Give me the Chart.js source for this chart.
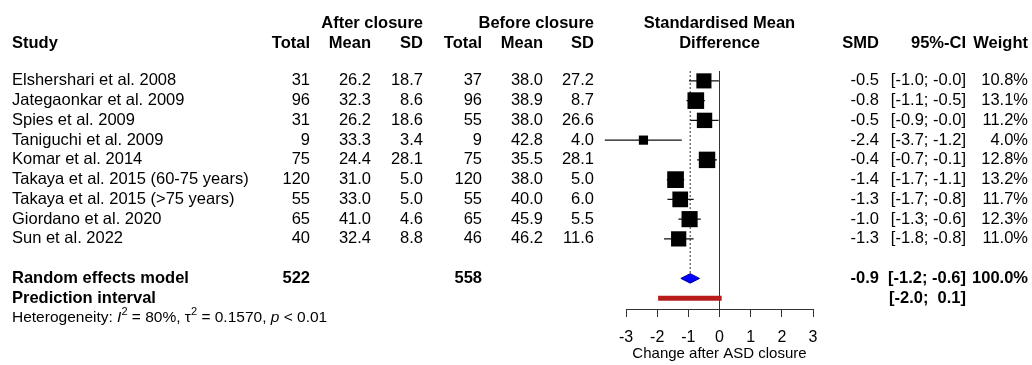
<!DOCTYPE html>
<html>
<head>
<meta charset="utf-8">
<script src="https://cdn.jsdelivr.net/npm/chart.js@4.4.1/dist/chart.umd.min.js"></script>
<style>
  html, body { margin: 0; padding: 0; background: #fff; }
  canvas { display: block; }
</style>
</head>
<body>
<canvas id="forest" width="1032" height="365"></canvas>
<script>
// Study data
const studies = [
  "Elshershari et al. 2008",
  "Jategaonkar et al. 2009",
  "Spies et al. 2009",
  "Taniguchi et al. 2009",
  "Komar et al. 2014",
  "Takaya et al. 2015 (60-75 years)",
  "Takaya et al. 2015 (>75 years)",
  "Giordano et al. 2020",
  "Sun et al. 2022"
];
const totalAfter = [31, 96, 31, 9, 75, 120, 55, 65, 40];
const meanAfter = [26.2, 32.3, 26.2, 33.3, 24.4, 31.0, 33.0, 41.0, 32.4];
const sdAfter = [18.7, 8.6, 18.6, 3.4, 28.1, 5.0, 5.0, 4.6, 8.8];
const totalBefore = [37, 96, 55, 9, 75, 120, 55, 65, 46];
const meanBefore = [38.0, 38.9, 38.0, 42.8, 35.5, 38.0, 40.0, 45.9, 46.2];
const sdBefore = [27.2, 8.7, 26.6, 4.0, 28.1, 5.0, 6.0, 5.5, 11.6];
const smd = [-0.50, -0.76, -0.48, -2.44, -0.40, -1.41, -1.26, -0.96, -1.31];
const ciLow = [-0.98, -1.06, -0.93, -3.68, -0.72, -1.69, -1.67, -1.32, -1.78];
const ciHigh = [-0.02, -0.47, -0.03, -1.21, -0.08, -1.13, -0.83, -0.60, -0.83];
const weight = [10.8, 13.1, 11.2, 4.0, 12.8, 13.2, 11.7, 12.3, 11.0];

// Pooled results
const pooled = { smd: -0.94, low: -1.24, high: -0.64, weight: 100.0, nAfter: 522, nBefore: 558 };
const predInterval = [-1.97, 0.07];
const heterogeneity = { i2: "80%", tau2: "0.1570", p: "< 0.01" };
const xTicks = [-3, -2, -1, 0, 1, 2, 3];
const xTitle = "Change after ASD closure";

// row layout (row index on the y scale)
const studyRows = studies.map((s, i) => i + 1);
const randomRow = 11, predRow = 12, hetRow = 13;
const FONT = '"Liberation Sans", Arial, Helvetica, sans-serif';
const TXT = 16.5;

const fmt = v => v.toFixed(1);
const fmtCi = (lo, hi) => {
  const pad = v => (v >= 0 ? " " : "") + fmt(v);
  return "[" + pad(lo) + "; " + pad(hi) + "]";
};

// CI whiskers: pairs of points separated by gaps
const whiskers = [];
studies.forEach((s, i) => {
  whiskers.push({ x: ciLow[i], y: studyRows[i] });
  whiskers.push({ x: ciHigh[i], y: studyRows[i] });
  whiskers.push({ x: null, y: null });
});

const diamondHalf = 0.24;
const diamond = [
  { x: pooled.low, y: randomRow },
  { x: pooled.smd, y: randomRow - diamondHalf },
  { x: pooled.high, y: randomRow },
  { x: pooled.smd, y: randomRow + diamondHalf },
  { x: pooled.low, y: randomRow }
];

// table text drawn beside the plot
const tablePlugin = {
  id: "forestTable",
  afterDraw(chart) {
    const ctx = chart.ctx;
    const py = r => chart.scales.y.getPixelForValue(r);
    const area = chart.chartArea;
    const colRight = [310, 371, 423, 482, 543, 594];
    const smdX = 879, ciX = 966, wX = 1028, nameX = 12;

    ctx.save();
    ctx.fillStyle = "#000";
    ctx.textBaseline = "middle";
    const put = (txt, x, y, align, bold, size) => {
      ctx.font = (bold ? "bold " : "") + (size || TXT) + "px " + FONT;
      ctx.textAlign = align;
      ctx.fillText(txt, x, y);
    };

    // header
    const h1 = py(-1.9), h2 = py(-0.9);
    put("After closure", colRight[2], h1, "right", true);
    put("Before closure", colRight[5], h1, "right", true);
    put("Standardised Mean", (area.left + area.right) / 2, h1, "center", true);
    put("Difference", (area.left + area.right) / 2, h2, "center", true);
    put("Study", nameX, h2, "left", true);
    ["Total", "Mean", "SD", "Total", "Mean", "SD"].forEach((t, k) => put(t, colRight[k], h2, "right", true));
    put("SMD", smdX, h2, "right", true);
    put("95%-CI", ciX, h2, "right", true);
    put("Weight", wX, h2, "right", true);

    // studies
    studies.forEach((name, i) => {
      const y = py(studyRows[i]);
      put(name, nameX, y, "left");
      const vals = [String(totalAfter[i]), fmt(meanAfter[i]), fmt(sdAfter[i]),
                    String(totalBefore[i]), fmt(meanBefore[i]), fmt(sdBefore[i])];
      vals.forEach((v, k) => put(v, colRight[k], y, "right"));
      put(fmt(smd[i]), smdX, y, "right");
      put(fmtCi(ciLow[i], ciHigh[i]), ciX, y, "right");
      put(fmt(weight[i]) + "%", wX, y, "right");
    });

    // pooled rows
    let y = py(randomRow);
    put("Random effects model", nameX, y, "left", true);
    put(String(pooled.nAfter), colRight[0], y, "right", true);
    put(String(pooled.nBefore), colRight[3], y, "right", true);
    put(fmt(pooled.smd), smdX, y, "right", true);
    put(fmtCi(pooled.low, pooled.high), ciX, y, "right", true);
    put(fmt(pooled.weight) + "%", wX, y, "right", true);
    y = py(predRow);
    put("Prediction interval", nameX, y, "left", true);
    put(fmtCi(predInterval[0], predInterval[1]), ciX, y, "right", true);

    // heterogeneity line with italics and superscripts
    y = py(hetRow);
    let x = nameX;
    const pieces = [
      ["Heterogeneity: ", ""], ["I", "italic "], ["2", "sup"], [" = " + heterogeneity.i2 + ", ", ""],
      ["\u03c4", ""], ["2", "sup"], [" = " + heterogeneity.tau2 + ", ", ""], ["p", "italic "],
      [" " + heterogeneity.p, ""]
    ];
    ctx.textAlign = "left";
    pieces.forEach(([t, st]) => {
      if (st === "sup") {
        ctx.font = "11px " + FONT;
        ctx.fillText(t, x, y - 6);
      } else {
        ctx.font = st + "15.5px " + FONT;
        ctx.fillText(t, x, y);
      }
      x += ctx.measureText(t).width;
    });
    ctx.restore();
  }
};

new Chart(document.getElementById("forest"), {
  type: "line",
  data: {
    datasets: [
      {
        label: "SMD",
        data: studies.map((s, i) => ({ x: smd[i], y: studyRows[i] })),
        showLine: false,
        pointStyle: "rect",
        pointRadius: studies.map((s, i) => 3.25 * Math.sqrt(weight[i])),
        pointBackgroundColor: "#000",
        pointBorderColor: "#000",
        pointBorderWidth: 0
      },
      {
        label: "Random effects model",
        data: diamond,
        borderColor: "#00008b",
        borderWidth: 1,
        backgroundColor: "#0000ff",
        fill: "shape",
        pointRadius: 0,
        tension: 0
      },
      {
        label: "95%-CI",
        data: whiskers,
        borderColor: "#111",
        borderWidth: 1.3,
        pointRadius: 0,
        spanGaps: false,
        clip: false
      },
      {
        label: "Prediction interval",
        data: predInterval.map(v => ({ x: v, y: predRow })),
        borderColor: "#b81c1c",
        borderWidth: 5,
        borderCapStyle: "butt",
        pointRadius: 0
      },
      {
        label: "Pooled estimate",
        data: [{ x: pooled.smd, y: 0.5 }, { x: pooled.smd, y: randomRow }],
        borderColor: "#555",
        borderWidth: 1.2,
        borderDash: [2, 2],
        pointRadius: 0
      }
    ]
  },
  options: {
    responsive: false,
    animation: false,
    events: [],
    layout: { padding: { left: 626, right: 219, top: 71, bottom: 2 } },
    plugins: { legend: { display: false }, tooltip: { enabled: false } },
    scales: {
      x: {
        type: "linear",
        min: xTicks[0],
        max: xTicks[xTicks.length - 1],
        afterBuildTicks: s => { s.ticks = xTicks.map(v => ({ value: v })); },
        afterFit: s => { s.height = 54; },
        grid: {
          color: c => (c.tick && c.tick.value === 0 ? "#333" : "rgba(0,0,0,0)"),
          tickColor: "#333",
          tickLength: 8,
          drawTicks: true
        },
        border: { display: true, color: "#333", width: 1 },
        ticks: { color: "#000", padding: 11, font: { family: FONT, size: 16 }, maxRotation: 0 },
        title: { display: true, text: xTitle, color: "#000", font: { family: FONT, size: 15 }, padding: { top: 0, bottom: 0 } }
      },
      y: {
        type: "linear",
        display: false,
        reverse: true,
        min: 0.5,
        max: 12.55
      }
    }
  },
  plugins: [tablePlugin]
});
</script>
</body>
</html>
